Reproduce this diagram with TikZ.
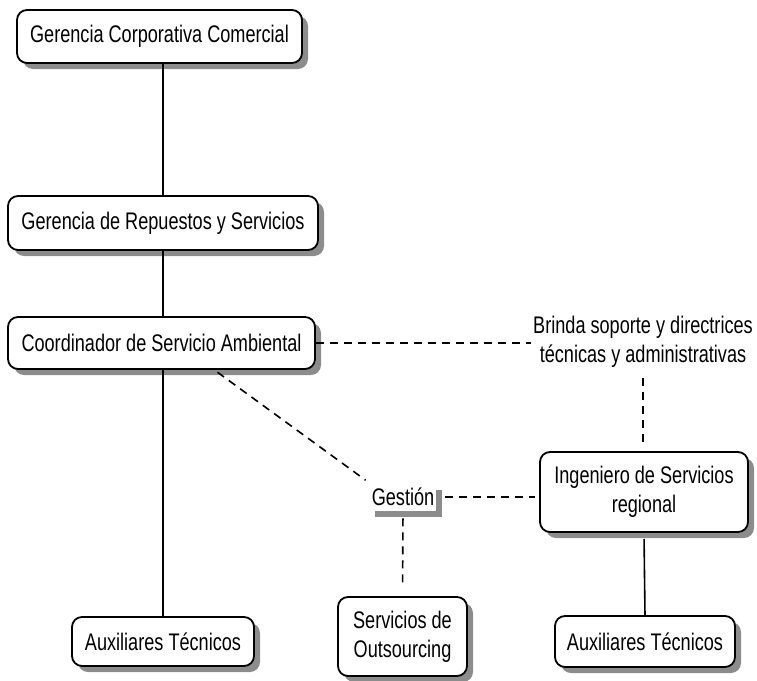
\documentclass[tikz,border=0pt]{standalone}
\usepackage{fontspec}
\setmainfont{Liberation Sans}[FakeStretch=0.755]
\usetikzlibrary{positioning,shadows}

\begin{document}
\begin{tikzpicture}[x=0.5pt, y=-0.5pt,
		caja/.style={draw, line width=0.9pt, rounded corners=5pt, fill=white, align=center,
			font=\fontsize{12}{14.5}\selectfont,
			drop shadow={shadow xshift=3pt, shadow yshift=-3pt, fill=black!45, opacity=1}},
		guion/.style={dashed, dash pattern=on 4pt off 3pt, line width=0.8pt},
		linea/.style={line width=0.8pt}]
	\useasboundingbox (0,0) rectangle (757,681);
	\begin{scope}[every node/.style={caja}]
		\node[minimum width=142.5pt, minimum height=26.5pt] (gcc) at (159.5,36.5) {Gerencia Corporativa Comercial};
		\node[minimum width=155pt, minimum height=27pt] (grs) at (163,223) {Gerencia de Repuestos y Servicios};
		\node[minimum width=153.5pt, minimum height=26pt] (csa) at (161.5,343) {Coordinador de Servicio Ambiental};
		\node[minimum width=104pt, minimum height=40pt] (ing) at (644,492) {Ingeniero de Servicios\\regional};
		\node[minimum width=91pt, minimum height=24.5pt] (aux1) at (163,641.5) {Auxiliares Técnicos};
		\node[minimum width=64.5pt, minimum height=39.5pt] (sout) at (402.5,636.5) {Servicios de\\Outsourcing};
		\node[minimum width=90pt, minimum height=25.5pt] (aux2) at (645,641.5) {Auxiliares Técnicos};
	\end{scope}
	\node[caja, draw=none, rounded corners=0pt, inner sep=1pt, minimum width=33pt, minimum height=13.5pt,
		drop shadow={shadow xshift=2.5pt, shadow yshift=-3pt, fill=black!45, opacity=1}] (gestion) at (403,497) {Gestión};
	\node[align=center, font=\fontsize{12}{14.5}\selectfont, inner sep=1pt] (brinda) at (643,342)
		{Brinda soporte y directrices\\técnicas y administrativas};
	% lineas de mando
	\draw[linea] (grs.north) -- (grs.north |- gcc.south);
	\draw[linea] (grs.south) -- (grs.south |- csa.north);
	\draw[linea] (aux1.north) -- (aux1.north |- csa.south);
	\draw[linea, shorten <=3pt] (ing.south) -- (aux2.north);
	% relaciones de apoyo
	\draw[guion] (csa.east) -- (csa.east -| brinda.west);
	\draw[guion, shorten <=4pt, shorten >=2pt] (brinda.south) -- (brinda.south |- ing.north);
	\draw[guion, shorten <=2pt, shorten >=2pt] (csa.-27) -- (gestion.north west);
	\draw[guion, shorten <=4pt, shorten >=2pt] (gestion.east) -- (gestion.east -| ing.west);
	\draw[guion, shorten <=3.5pt, shorten >=6pt] (gestion.south) -- (sout.north);
\end{tikzpicture}
\end{document}
